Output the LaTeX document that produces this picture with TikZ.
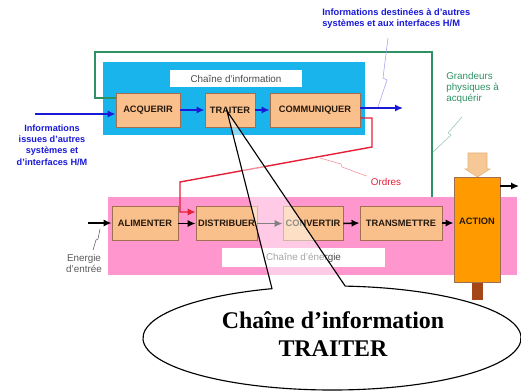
\documentclass[tikz,border=0pt]{standalone}
\usepackage{fontspec}
\setmainfont{Liberation Sans}
\newfontfamily\bulle{Liberation Serif}
\usepackage{xcolor}
\usepackage{tikz}
\usetikzlibrary{arrows.meta, calc, positioning}

\definecolor{cyanfond}{RGB}{25,180,235}
\definecolor{rosefond}{RGB}{255,150,205}
\definecolor{peche}{RGB}{250,192,140}
\definecolor{bordpeche}{RGB}{160,110,80}
\definecolor{orangeact}{RGB}{255,155,0}
\definecolor{vertinfo}{RGB}{45,145,100}
\definecolor{bleuinfo}{RGB}{25,25,215}
\definecolor{rougeordre}{RGB}{230,30,55}
\definecolor{beige}{RGB}{245,200,150}
\definecolor{brunaxe}{RGB}{165,70,25}
\definecolor{grisnote}{RGB}{90,90,90}

\begin{document}
\begin{tikzpicture}[x=0.025cm, y=-0.025cm,
  fonction/.style={draw=bordpeche, fill=peche, line width=0.6pt, minimum height=0.85cm,
    inner sep=0pt, font=\fontsize{6.6}{7}\selectfont\bfseries, text=black!80!brown},
  etiquette/.style={fill=white, inner sep=0pt, font=\fontsize{7}{8}\selectfont, text=black!70},
  fleche/.style={-{Latex[length=2mm, width=1.8mm]}, line width=1.1pt},
  note/.style={font=\fontsize{7}{8}\selectfont, inner sep=0pt},
  renvoi/.style={line width=0.4pt}
]
\useasboundingbox (0,0) rectangle (521,392);
% --- fonds des deux chaines ---
\fill[cyanfond] (103,62) rectangle (365,135);
\fill[rosefond] (108,197) rectangle (517,275);
\node[etiquette, minimum width=3.3cm, minimum height=0.425cm] (titreinfo) at (236,78.5) {Chaîne d'information};
\node[etiquette, minimum width=4.075cm, minimum height=0.475cm] (titreener) at (303.5,257.5) {Chaîne d'énergie};

% --- boucle des grandeurs physiques ---
\coordinate (boucle) at (432,197);
\draw[vertinfo, line width=1.2pt] (boucle) -- (432,52) -- (95,52) -- (95,98) -- (116,98);

% --- chaine d'information ---
\node[fonction, minimum width=1.6cm] (acq) at (148,110) {ACQUERIR};
\node[fonction, minimum width=1.25cm] (trait) at (230,110) {TRAITER};
\node[fonction, minimum width=2.25cm] (comm) at (315,110) {COMMUNIQUER};

% --- chaine d'energie ---
\node[fonction, minimum width=1.65cm] (alim) at (145,223.5) {ALIMENTER};
\node[fonction, minimum width=1.525cm] (dist) at (226.5,223.5) {DISTRIBUER};
\node[fonction, minimum width=1.5cm] (conv) at (313,223.5) {CONVERTIR};
\node[fonction, minimum width=2.05cm] (trans) at (401,223) {TRANSMETTRE};
\fill[beige, draw=beige!70!brown] (468,153) -- (487,153) -- (487,169) -- (490,169) -- (477.5,177) -- (465,169) -- (468,169) -- cycle;
\fill[brunaxe] (472,282) rectangle (483,300);
\node[fonction, fill=orangeact, minimum width=1.15cm, minimum height=2.625cm] (act) at (477,229.5) {};
\node[font=\fontsize{6.6}{7}\selectfont\bfseries, text=black!80!brown] (actlbl) at (477,221) {ACTION};

% --- fleches d'information ---
\coordinate (entree) at (35,114);
\coordinate (sortie) at (403,108);
\draw[fleche, bleuinfo] (entree) -- (entree -| acq.west);
\draw[fleche, bleuinfo] (acq.east) -- (trait.west);
\draw[fleche, bleuinfo] (trait.east) -- (comm.west);
\draw[fleche, bleuinfo] (comm.east |- sortie) -- (sortie);

% --- ordres ---
\coordinate (coude) at (180,212);
\draw[fleche, rougeordre, line width=1pt] ($(comm.east)+(0,8)$) -- (372,118) -- (372,147) -- (180,182) -- (coude) -- (coude -| dist.west);

% --- fleches d'energie ---
\coordinate (energie) at (88,223);
\coordinate (sortieact) at (519,186);
\draw[fleche] (energie) -- (energie -| alim.west);
\draw[fleche] (alim.east) -- (dist.west);
\draw[fleche] (dist.east) -- (conv.west);
\draw[fleche] (conv.east) -- (trans.west);
\draw[fleche] (trans.east) -- (trans.east -| act.west);
\draw[fleche] (act.east |- sortieact) -- (sortieact);

% --- textes ---
\node[note, font=\fontsize{6.6}{7.5}\selectfont\bfseries, text=bleuinfo, align=left, anchor=west] (dest) at (322,18.5)
  {Informations destinées à d'autres\\systèmes et aux interfaces H/M};
\node[note, font=\fontsize{6.5}{8}\selectfont\bfseries, text=bleuinfo, align=center] (issues) at (52,145)
  {Informations\\issues d'autres\\systèmes et\\d'interfaces H/M};
\node[note, text=vertinfo, align=left, anchor=west] (grandeurs) at (446,88)
  {Grandeurs\\physiques à\\acquérir};
\node[note, text=rougeordre] (ordres) at (386,182) {Ordres};
\node[note, text=grisnote, align=center] (nrj) at (84,263.5) {Energie\\d'entrée};

% --- renvois ---
\coordinate (pointsortie) at (378,107);
\coordinate (pointvert) at (433,152);
\coordinate (pointrouge) at (320,158);
\coordinate (pointnrj) at (100,229);
\draw[renvoi, bleuinfo!40] (388,38) -- (383,78) -- (387,80) -- (pointsortie);
\draw[renvoi, vertinfo!50] (462,117) -- (448,133) -- (451,135) -- (pointvert);
\draw[renvoi, rougeordre!50] (ordres.north west) ++(-4,-2) -- (342,167) -- (341,164) -- (pointrouge);
\draw[renvoi, grisnote] (nrj.north) ++(9,-4) -- (96,240) -- (98,239) -- (pointnrj);

% --- bulle ---
\coordinate (ecen) at (332,338);
\coordinate (pointe) at (227,111);
\coordinate (baseD) at ($(ecen)+(86:4.725cm and 1.3cm)$);
\coordinate (baseG) at ($(ecen)+(108.5:4.725cm and 1.3cm)$);
\fill[white, opacity=.5] (pointe) -- (baseD) -- (baseG) -- cycle;
\fill[white] (ecen) ellipse [x radius=4.725cm, y radius=1.3cm];
\draw[line width=.8pt] (pointe) -- (baseD) arc[start angle=86, end angle=-251.5, x radius=4.725cm, y radius=1.3cm] -- cycle;
\node[font=\bulle\bfseries\fontsize{17}{20}\selectfont, align=center] (bulle) at (333,334)
  {Chaîne d’information\\TRAITER};
\end{tikzpicture}
\end{document}
